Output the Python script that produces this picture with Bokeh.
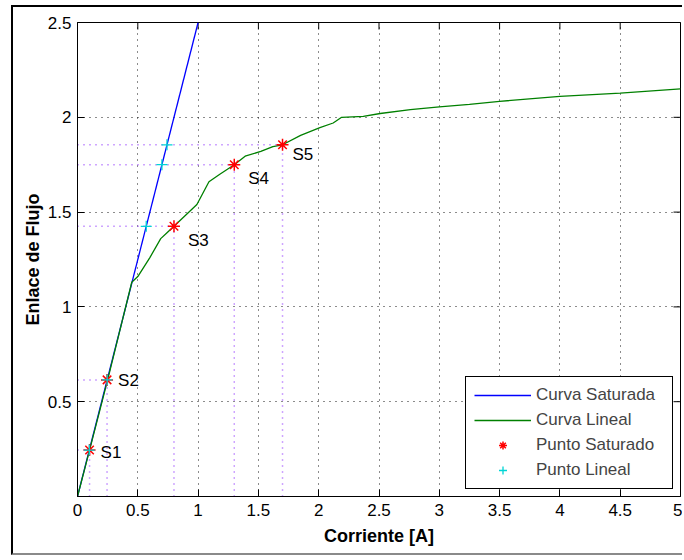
import math
from bokeh.plotting import figure
from bokeh.models import FixedTicker, Legend, LegendItem
from bokeh.embed import file_html
from bokeh.resources import INLINE
from bokeh.core.properties import value

# ---------------- data ----------------
# Curva Saturada (blue straight line)
corriente_saturada = [0.0, 1.0]
flujo_saturada = [0.0, 2.5]

# Curva Lineal (green curve)
corriente_lineal = [0.0, 0.1, 0.25, 0.45, 0.5, 0.6, 0.69, 0.74, 0.8, 0.99, 1.09, 1.18,
                    1.3, 1.39, 1.52, 1.62, 1.7, 1.85, 2.01, 2.12, 2.19, 2.37, 2.51,
                    2.76, 3.0, 3.25, 3.5, 4.0, 4.5, 5.0]
flujo_lineal = [0.0, 0.245, 0.615, 1.13, 1.16, 1.26, 1.36, 1.39, 1.425, 1.54, 1.66, 1.70,
                1.75, 1.795, 1.82, 1.845, 1.855, 1.905, 1.945, 1.97, 2.0, 2.005, 2.02,
                2.04, 2.055, 2.068, 2.084, 2.11, 2.128, 2.15]

# Punto Saturado (red asterisks) and Punto Lineal (cyan crosses)
punto_sat_corriente = [0.1, 0.245, 0.8, 1.3, 1.7]
punto_lin_corriente = [0.098, 0.246, 0.57, 0.70, 0.742]
punto_flujo = [0.245, 0.615, 1.425, 1.75, 1.855]
etiquetas = ["S1", "S2", "S3", "S4", "S5"]

x_ticks = [0, 0.5, 1, 1.5, 2, 2.5, 3, 3.5, 4, 4.5, 5]
x_tick_labels = ["0", "0.5", "1", "1.5", "2", "2.5", "3", "3.5", "4", "4.5", "5"]
y_ticks = [0.5, 1, 1.5, 2, 2.5]
y_tick_labels = ["0.5", "1", "1.5", "2", "2.5"]
x_lim = (0, 5)
y_lim = (0, 2.5)

# ---------------- style ----------------
FONT = "Liberation Sans"
label_dx = [11, 11, 14, 14, 10]
label_dy = [2, 1, 14, 14, 10]

p = figure(width=671, height=550, x_range=x_lim, y_range=y_lim,
           output_backend="svg", toolbar_location=None,
           min_border_left=64, min_border_right=4, min_border_top=15, min_border_bottom=61,
           background_fill_color="white", border_fill_color="white")
p.margin = (5, 0, 0, 11)
p.styles = {"border-left": "2px solid black", "border-top": "2px solid black",
            "border-bottom": "2px solid #8a8a8a"}

p.outline_line_color = "black"
p.outline_line_alpha = 1.0
p.outline_line_width = 1

xt = FixedTicker(ticks=x_ticks)
yt = FixedTicker(ticks=y_ticks)

p.xaxis.ticker = xt
p.yaxis.ticker = yt
p.xaxis.major_label_overrides = {float(k): v for k, v in zip(x_ticks, x_tick_labels)}
p.yaxis.major_label_overrides = {float(k): v for k, v in zip(y_ticks, y_tick_labels)}

for ax in (p.xaxis[0], p.yaxis[0]):
    ax.major_tick_in = 7
    ax.major_tick_out = 0
    ax.minor_tick_line_color = None
    ax.axis_line_color = "black"
    ax.major_tick_line_color = "black"
    ax.major_label_text_font = FONT
    ax.major_label_text_font_size = "17px"
    ax.major_label_text_color = "black"
    ax.axis_label_text_font = FONT
    ax.axis_label_text_font_size = "18px"
    ax.axis_label_text_font_style = "bold"
    ax.axis_label_text_color = "black"

p.xaxis.major_label_standoff = 7
p.yaxis.major_label_standoff = 6
p.xaxis.axis_label = "Corriente [A]"
p.yaxis.axis_label = "Enlace de Flujo"
p.xaxis.axis_label_standoff = 7
p.yaxis.axis_label_standoff = 2

p.xgrid.ticker = xt
p.ygrid.ticker = yt
for g in (p.xgrid[0], p.ygrid[0]):
    g.grid_line_color = "black"
    g.grid_line_dash = "1 5"
    g.grid_line_width = 1
    g.grid_line_alpha = 0.9

# inward ticks on the top and right edges of the box
p.scatter(x=x_ticks, y=y_lim[1], marker="dash", angle=math.pi / 2, size=14,
          line_color="black", line_width=1)
p.scatter(x=x_lim[1], y=y_ticks, marker="dash", size=14, line_color="black", line_width=1)

# curves
r_sat = p.line(corriente_saturada, flujo_saturada, line_color="#0000ff", line_width=1.3)
r_lin = p.line(corriente_lineal, flujo_lineal, line_color="#008000", line_width=1.3)

# purple guide lines
purple = "#9d4dff"
p.segment(x0=punto_sat_corriente, y0=0, x1=punto_sat_corriente, y1=punto_flujo,
          line_color=purple, line_dash="1 5", line_width=1.5)
p.segment(x0=0, y0=punto_flujo, x1=punto_sat_corriente, y1=punto_flujo,
          line_color=purple, line_dash="1 5", line_width=1.5)

r_ps = p.scatter(punto_sat_corriente, punto_flujo, marker="asterisk", size=12,
                 line_color="red", line_width=1.5)
r_pl = p.scatter(punto_lin_corriente, punto_flujo, marker="cross", size=11,
                 line_color="#00d5d5", line_width=1.3)

p.text(x=punto_sat_corriente, y=punto_flujo, text=etiquetas, x_offset=label_dx, y_offset=label_dy,
       text_font=value(FONT), text_font_size="17px", text_baseline="middle",
       text_align="left", text_color="black")

legend = Legend(items=[
    LegendItem(label="Curva Saturada", renderers=[r_sat]),
    LegendItem(label="Curva Lineal", renderers=[r_lin]),
    LegendItem(label="Punto Saturado", renderers=[r_ps]),
    LegendItem(label="Punto Lineal", renderers=[r_pl]),
], location="bottom_right")
legend.border_line_color = "black"
legend.border_line_width = 1
legend.border_line_alpha = 1
legend.background_fill_color = "white"
legend.background_fill_alpha = 1
legend.label_text_font = FONT
legend.label_text_font_size = "17px"
legend.glyph_width = 57
legend.glyph_height = 20
legend.label_height = 20
legend.label_width = 128
legend.spacing = 5
legend.padding = 8
legend.margin = 7
legend.label_standoff = 5
p.add_layout(legend)

open("out.html", "w").write(file_html(p, INLINE))
